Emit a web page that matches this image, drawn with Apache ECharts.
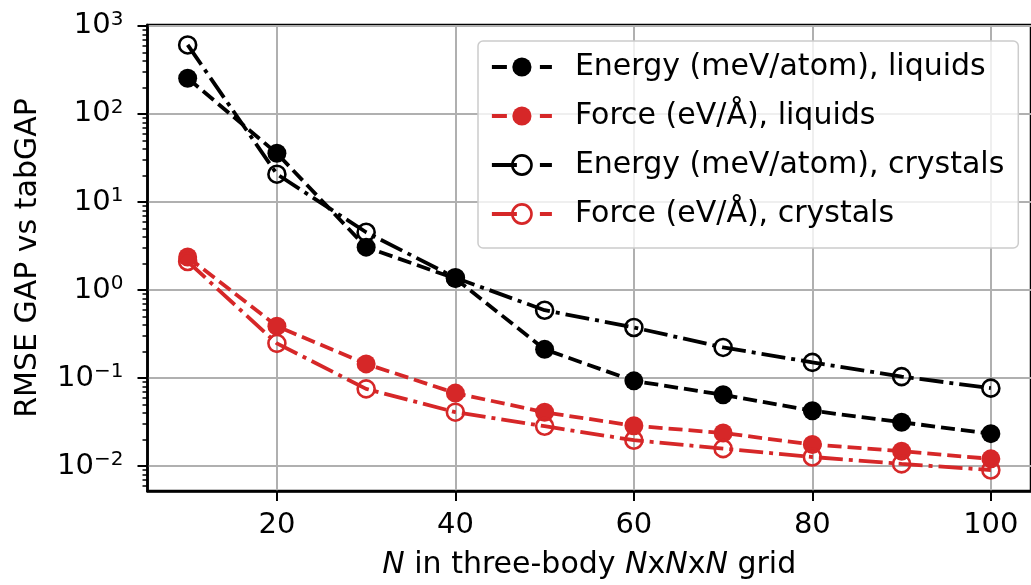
<!DOCTYPE html>
<html><head><meta charset="utf-8">
<script src="https://cdn.jsdelivr.net/npm/echarts@6/dist/echarts.min.js"></script>
<style>html,body{margin:0;padding:0;background:#fff}#c{width:1031px;height:585px}</style>
</head><body><div id="c"></div>
<script>
const N = [10, 20, 30, 40, 50, 60, 70, 80, 90, 100];
const energyLiquids  = [255, 35.7, 3.07, 1.35, 0.212, 0.093, 0.0646, 0.0426, 0.0315, 0.0234];
const forceLiquids   = [2.37, 0.389, 0.145, 0.0675, 0.0409, 0.0288, 0.0238, 0.0176, 0.0148, 0.0121];
const energyCrystals = [608, 20.7, 4.53, 1.38, 0.59, 0.376, 0.223, 0.151, 0.104, 0.0769];
const forceCrystals  = [2.11, 0.248, 0.0755, 0.041, 0.0284, 0.0197, 0.0158, 0.0127, 0.0106, 0.00904];
const seriesNames = ['Energy (meV/atom), liquids', 'Force (eV/Å), liquids', 'Energy (meV/atom), crystals', 'Force (eV/Å), crystals'];
const xTicks = [20, 40, 60, 80, 100];
const yTicks = [0.01, 0.1, 1, 10, 100, 1000];
const yMinorTicks = [0.006, 0.007, 0.008, 0.009,
  0.02, 0.03, 0.04, 0.05, 0.06, 0.07, 0.08, 0.09,
  0.2, 0.3, 0.4, 0.5, 0.6, 0.7, 0.8, 0.9,
  2, 3, 4, 5, 6, 7, 8, 9,
  20, 30, 40, 50, 60, 70, 80, 90,
  200, 300, 400, 500, 600, 700, 800, 900];
const yLabel = 'RMSE GAP vs tabGAP';
const xLabel = '{i|N} in three-body {i|N}x{i|N}x{i|N} grid';

const FONT = 'DejaVu Sans';
const RED = '#d62728';
const pairs = arr => N.map((x, i) => [x, arr[i]]);
const DASH = [14, 6];
const DASHDOT = [24, 6, 4, 6];
const LEG_DASH = [15, 33, 12, 10];
const LEG_DASHDOT = [25, 23, 12, 10];
const colors = ['#000', RED, '#000', RED];
const filledFlags = [true, true, false, false];
const legendDashes = [LEG_DASH, LEG_DASH, LEG_DASHDOT, LEG_DASHDOT];

function styleFor(color, filled) {
  return filled ? {color: color, borderColor: color, borderWidth: 0}
                : {color: 'rgba(255,255,255,0)', borderColor: color, borderWidth: 2.6};
}

function mk(name, data, color, filled, dash, z) {
  return {
    name, type: 'line', data: pairs(data), z,
    symbol: 'circle', symbolSize: filled ? 19 : 17,
    itemStyle: styleFor(color, filled),
    lineStyle: {color: color, width: 3.8, type: dash},
    emphasis: {disabled: true},
    animation: false
  };
}

const chart = echarts.init(document.getElementById('c'), null, {renderer: 'canvas'});
chart.setOption({
  animation: false,
  backgroundColor: '#fff',
  grid: {left: 147.5, right: -3.6, top: 25, bottom: 92, show: true, borderColor: '#000', borderWidth: 2.5, backgroundColor: 'rgba(0,0,0,0)'},
  legend: {
    orient: 'vertical', left: 478, top: 41,
    itemWidth: 60, itemHeight: 24, itemGap: 19,
    padding: [11, 14, 19, 12],
    backgroundColor: 'rgba(255,255,255,0.8)', borderColor: '#cccccc', borderWidth: 1.5, borderRadius: 5,
    textStyle: {fontFamily: FONT, fontSize: 30, color: '#000', padding: [0, 0, 0, 18], lineHeight: 30},
    data: seriesNames.map((n, i) => ({
      name: n,
      lineStyle: {color: colors[i], width: 3.8, type: legendDashes[i]},
      itemStyle: styleFor(colors[i], filledFlags[i])
    })),
    z: 10
  },
  xAxis: {
    type: 'value', min: 5.5, max: 104.5,
    axisLine: {show: true, onZero: false, lineStyle: {color: '#000', width: 2.5}},
    axisTick: {show: true, length: 10, lineStyle: {color: '#000', width: 2}, customValues: xTicks},
    axisLabel: {customValues: xTicks, fontFamily: FONT, fontSize: 29, color: '#000', margin: 20},
    splitLine: {show: true, lineStyle: {color: '#b0b0b0', width: 2}},
    name: xLabel, nameLocation: 'middle', nameGap: 59,
    nameTextStyle: {fontFamily: FONT, fontSize: 30, color: '#000',
      rich: {i: {fontFamily: FONT, fontSize: 30, fontStyle: 'italic', color: '#000'}}}
  },
  yAxis: [{
    type: 'log', logBase: 10, min: 0.00522, max: 1024,
    axisLine: {show: true, lineStyle: {color: '#000', width: 2.5}},
    axisTick: {show: true, length: 10, lineStyle: {color: '#000', width: 2}, customValues: yTicks},
    axisLabel: {customValues: yTicks, margin: 24,
      formatter: v => { const e = Math.round(Math.log10(v)); return '{b|10}{s|' + (e < 0 ? '\u2212' + (-e) : e) + '}'; },
      rich: {
        b: {fontFamily: FONT, fontSize: 29, color: '#000', lineHeight: 33},
        s: {fontFamily: FONT, fontSize: 20, color: '#000', lineHeight: 20, verticalAlign: 'top'}
      }},
    splitLine: {show: true, lineStyle: {color: '#b0b0b0', width: 2}},
    name: yLabel, nameLocation: 'middle', nameGap: 104, nameRotate: 90,
    nameTextStyle: {fontFamily: FONT, fontSize: 30, color: '#000'}
  }, {
    type: 'log', logBase: 10, min: 0.00522, max: 1024, position: 'left',
    axisLine: {show: false},
    axisTick: {show: true, length: 5, lineStyle: {color: '#000', width: 1.5}, customValues: yMinorTicks},
    axisLabel: {show: false},
    splitLine: {show: false}
  }],
  series: [
    mk(seriesNames[0], energyLiquids, colors[0], true, DASH, 2),
    mk(seriesNames[1], forceLiquids, colors[1], true, DASH, 3),
    mk(seriesNames[2], energyCrystals, colors[2], false, DASHDOT, 4),
    mk(seriesNames[3], forceCrystals, colors[3], false, DASHDOT, 5)
  ]
});
</script></body></html>
